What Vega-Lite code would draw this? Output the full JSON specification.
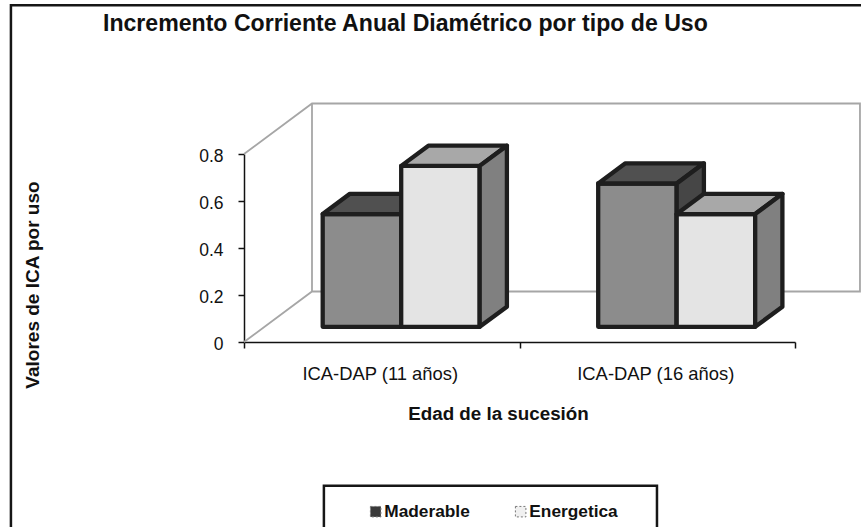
{
"$schema":"https://vega.github.io/schema/vega-lite/v6.json",
"width":551,"height":188,
"autosize":{"type":"none"},
"padding":{"left":244,"top":154,"right":66,"bottom":185},
"background":"white",
"title":{"text":"Incremento Corriente Anual Diamétrico por tipo de Uso","anchor":"start","frame":"group","dx":-141,"offset":-36,"font":"Liberation Sans","fontSize":23.1,"fontWeight":"bold","color":"#111"},
"config":{"view":{"stroke":null},"font":"Liberation Sans"},
"datasets":{
"valores":[
{"edad":"ICA-DAP (11 años)","uso":"Maderable","valor":0.48},
{"edad":"ICA-DAP (11 años)","uso":"Energetica","valor":0.685},
{"edad":"ICA-DAP (16 años)","uso":"Maderable","valor":0.61},
{"edad":"ICA-DAP (16 años)","uso":"Energetica","valor":0.48}
],
"pared":[
{"linea":"a","n":0,"g":0,"v":0.8,"z":0},{"linea":"a","n":1,"g":0,"v":0.8,"z":1},{"linea":"a","n":2,"g":1.989,"v":0.8,"z":1},{"linea":"a","n":3,"g":1.989,"v":0,"z":1},{"linea":"a","n":4,"g":0,"v":0,"z":1},{"linea":"a","n":5,"g":0,"v":0,"z":0},
{"linea":"b","n":0,"g":0,"v":0.8,"z":1},{"linea":"b","n":1,"g":0,"v":0,"z":1}
],
"marco":[
{"linea":"marco","n":0,"gx":-0.846,"vy":-0.85},{"linea":"marco","n":1,"gx":-0.846,"vy":1.433},{"linea":"marco","n":2,"gx":2.27,"vy":1.433},
{"linea":"leyenda","n":0,"gx":0.29,"vy":-0.85},{"linea":"leyenda","n":1,"gx":0.29,"vy":-0.612},{"linea":"leyenda","n":2,"gx":1.499,"vy":-0.612},{"linea":"leyenda","n":3,"gx":1.499,"vy":-0.85}
]
},
"resolve":{"scale":{"x":"independent"}},
"layer":[
{
"data":{"name":"marco"},
"mark":{"type":"line","stroke":"#161616","strokeWidth":2.5},
"encoding":{
"x":{"field":"gx","type":"quantitative","scale":{"domain":[0,2],"nice":false,"zero":false},"axis":null},
"y":{"field":"vy","type":"quantitative","scale":{"domain":[0,0.8],"nice":false}},
"detail":{"field":"linea"},
"order":{"field":"n"}
}
},
{
"data":{"name":"pared"},
"transform":[
{"calculate":"datum.g+datum.z*68/275.5","as":"px"},
{"calculate":"datum.v+datum.z*50.5/235","as":"py"}
],
"mark":{"type":"line","stroke":"#a6a6a6","strokeWidth":1.8},
"encoding":{
"x":{"field":"px","type":"quantitative","scale":{"domain":[0,2],"nice":false,"zero":false},"axis":null},
"y":{"field":"py","type":"quantitative","scale":{"domain":[0,0.8],"nice":false}},
"detail":{"field":"linea"},
"order":{"field":"n"}
}
},
{
"data":{"name":"valores"},
"mark":{"type":"bar","opacity":0},
"encoding":{
"x":{"field":"edad","type":"nominal","sort":null,"scale":{"paddingInner":0,"paddingOuter":0},
"axis":{"title":"Edad de la sucesión","labelAngle":0,"tickBand":"extent","labelFontSize":18.4,"labelOffset":-2,"labelColor":"#111","labelPadding":16,"tickSize":6,"tickColor":"#111","domainColor":"#111","domainWidth":1.5,"tickWidth":1.5,"titleFontSize":18.8,"titleFontWeight":"bold","titleColor":"#111","titleX":254,"titleY":77,"titleBaseline":"alphabetic"}},
"xOffset":{"field":"uso","sort":["Maderable","Energetica"]},
"y":{"field":"valor","type":"quantitative","scale":{"domain":[0,0.8],"nice":false},
"axis":{"title":"Valores de ICA por uso","values":[0,0.2,0.4,0.6,0.8],"format":".1~f","grid":false,"labelFontSize":17.5,"labelOffset":2,"labelColor":"#111","labelPadding":15,"tickSize":6,"tickColor":"#111","domainColor":"#111","domainWidth":1.5,"tickWidth":1.5,"titleFontSize":19,"titleFontWeight":"bold","titleColor":"#111","titleX":-206,"titleY":130.5,"titleBaseline":"alphabetic"}},
"color":{"field":"uso","type":"nominal","title":null,
"scale":{"domain":["Maderable","Energetica"],"range":["#3a3a3a","#f0f0f0"]},
"legend":{"orient":"none","direction":"horizontal","legendX":123,"legendY":349,"symbolType":"square","symbolSize":110,"symbolOpacity":1,"symbolStrokeColor":"#777","symbolDash":[2,2],"symbolStrokeWidth":1,"labelFontSize":17.3,"labelFontWeight":"bold","labelColor":"#111","labelOffset":0,"columnPadding":42,"padding":0}}
}
},
{
"data":{"name":"valores"},
"transform":[
{"calculate":"indexof(['ICA-DAP (11 años)','ICA-DAP (16 años)'],datum.edad)","as":"g"},
{"calculate":"datum.uso=='Maderable'?0:1","as":"s"},
{"calculate":"['frente','tapa','lado']","as":"cara"},
{"flatten":["cara"]},
{"calculate":"[0,1,1,0,0]","as":"a"},
{"calculate":"[0,0,1,1,0]","as":"b"},
{"calculate":"[0,1,2,3,4]","as":"n"},
{"flatten":["a","b","n"]},
{"calculate":"datum.cara=='lado'?1:datum.a","as":"U"},
{"calculate":"datum.cara=='tapa'?1:datum.b","as":"V"},
{"calculate":"datum.cara=='frente'?0.3:(datum.cara=='tapa'?0.3+0.4*datum.b:0.3+0.4*datum.a)","as":"Z"},
{"calculate":"datum.g+(58.3+78.5*(datum.s+datum.U))/275.5+datum.Z*68/275.5","as":"px"},
{"calculate":"datum.V*datum.valor+datum.Z*50.5/235","as":"py"},
{"calculate":"datum.edad+datum.uso+datum.cara","as":"clave"},
{"calculate":"datum.uso+' '+datum.cara","as":"tono"}
],
"mark":{"type":"line","stroke":"#1e1e1e","strokeWidth":4.3,"strokeJoin":"round","strokeCap":"round"},
"encoding":{
"x":{"field":"px","type":"quantitative","scale":{"domain":[0,2],"nice":false,"zero":false},"axis":null},
"y":{"field":"py","type":"quantitative","scale":{"domain":[0,0.8],"nice":false}},
"detail":{"field":"clave"},
"order":{"field":"n"},
"fill":{"field":"tono","type":"nominal","legend":null,
"scale":{"domain":["Maderable frente","Maderable tapa","Maderable lado","Energetica frente","Energetica tapa","Energetica lado"],"range":["#8c8c8c","#505050","#464646","#e4e4e4","#a8a8a8","#808080"]}}
}
}
]
}
